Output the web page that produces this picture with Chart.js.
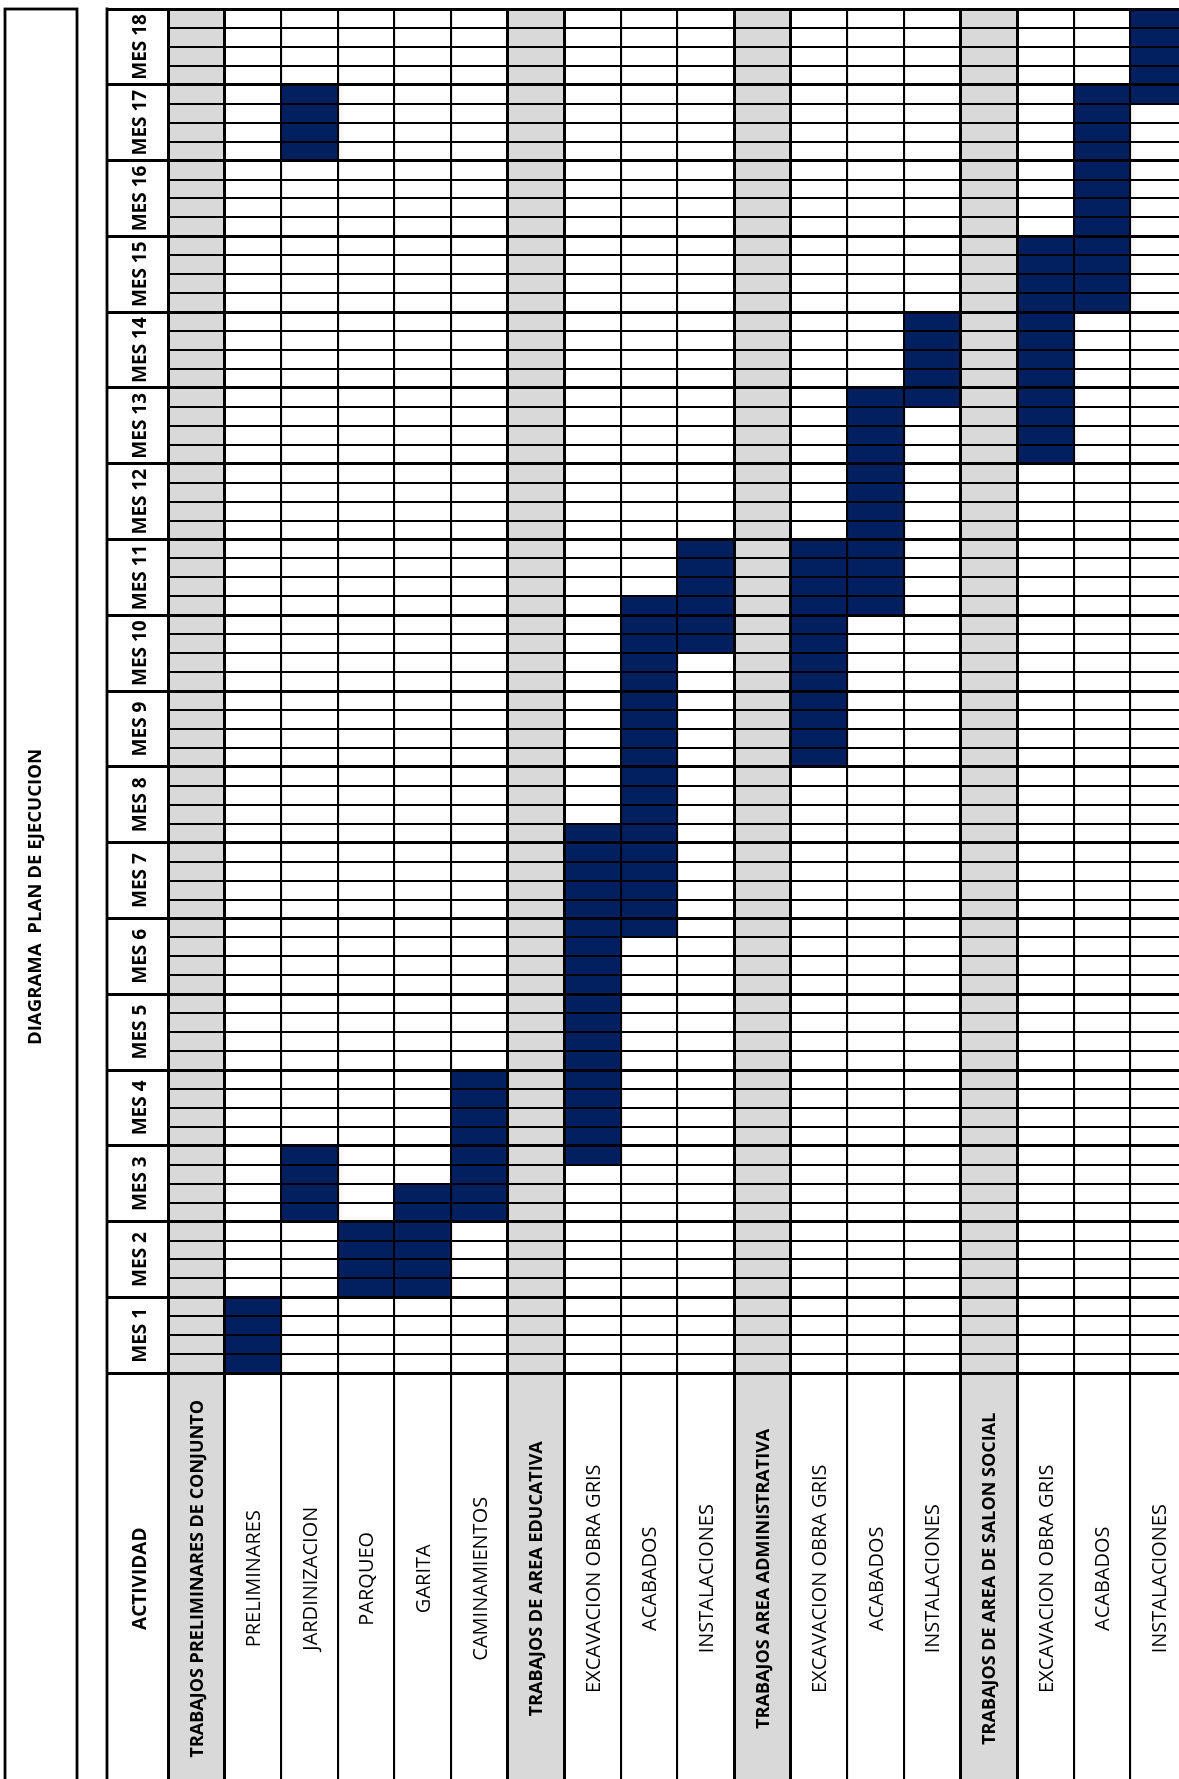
<!DOCTYPE html>
<html>
<head>
<meta charset="utf-8">
<title>Diagrama plan de ejecucion</title>
<script src="https://cdn.jsdelivr.net/npm/chart.js@4.4.1/dist/chart.umd.min.js"></script>
<style>
  html, body { margin: 0; padding: 0; background: #fff; overflow: hidden; }
  #wrap { position: absolute; left: 0; top: 0; width: 1200px; height: 1800px; }
</style>
</head>
<body>
<div id="wrap"><canvas id="plan" width="1200" height="1800"></canvas></div>
<script>
// ── Datos ──
const ACTIVITIES = [
    'TRABAJOS PRELIMINARES DE CONJUNTO', 'PRELIMINARES', 'JARDINIZACION', 'PARQUEO', 'GARITA', 'CAMINAMIENTOS',
    'TRABAJOS DE AREA EDUCATIVA', 'EXCAVACION OBRA GRIS', 'ACABADOS', 'INSTALACIONES',
    'TRABAJOS AREA ADMINISTRATIVA', 'EXCAVACION OBRA GRIS', 'ACABADOS', 'INSTALACIONES',
    'TRABAJOS DE AREA DE SALON SOCIAL', 'EXCAVACION OBRA GRIS', 'ACABADOS', 'INSTALACIONES',
];
const IS_SECTION = [1, 0, 0, 0, 0, 0, 1, 0, 0, 0, 1, 0, 0, 0, 1, 0, 0, 0];

// semanas (1..72), primera y última semana ocupada
const START_WEEK = [null, 1, 9, 5, 5, 9, null, 12, 24, 39, null, 33, 41, 52, null, 49, 57, 68];
const END_WEEK   = [null, 4, 12, 8, 10, 16, null, 29, 41, 44, null, 44, 52, 56, null, 60, 68, 72];
// segundo tramo (jardinización al final)
const EXTRA_START = [null, null, 65, null, null, null, null, null, null, null, null, null, null, null, null, null, null, null];
const EXTRA_END   = [null, null, 68, null, null, null, null, null, null, null, null, null, null, null, null, null, null, null];

const MONTHS = ['MES 1', 'MES 2', 'MES 3', 'MES 4', 'MES 5', 'MES 6', 'MES 7', 'MES 8', 'MES 9',
                'MES 10', 'MES 11', 'MES 12', 'MES 13', 'MES 14', 'MES 15', 'MES 16', 'MES 17', 'MES 18'];

const TITLE = 'DIAGRAMA  PLAN DE EJECUCION';
const HEAD_LABEL = 'ACTIVIDAD';

const WEEKS_PER_MONTH = 4;
const TOTAL_WEEKS = MONTHS.length * WEEKS_PER_MONTH;
const HEADER_WEEKS = 22;      // alto de la fila de encabezado, en semanas
const LABEL_CENTER = -10.85;  // centro de los textos del encabezado

const BLUE = '#022060';
const GRAY = '#d9d9d9';
const FONT = '"Open Sans", "Noto Sans", sans-serif';

const toRange = (s, e) => s.map((v, i) => v == null ? null : [v - 1, e[i]]);

// ── Texto vertical ──
function vText(ctx, text, cx, cy, size, bold) {
    ctx.save();
    ctx.font = `${bold ? 'bold ' : ''}${size}px ${FONT}`;
    ctx.translate(cx + size * 0.357, cy);
    ctx.rotate(-Math.PI / 2);
    ctx.textAlign = 'center';
    ctx.textBaseline = 'alphabetic';
    ctx.fillStyle = '#000';
    ctx.fillText(text, 0, 0);
    ctx.restore();
}

const tablePlugin = {
    id: 'tablePlugin',
    afterDraw(chart) {
        const { ctx, chartArea } = chart;
        const x = chart.scales.x;
        const y = chart.scales.y;
        const top = y.getPixelForValue(TOTAL_WEEKS);
        const tableLeft = 107;

        ctx.save();
        ctx.strokeStyle = '#000';
        // marco izquierdo con título
        ctx.lineWidth = 2.8;
        ctx.strokeRect(5, top, 72, 1900);
        // borde izquierdo de la tabla
        ctx.beginPath();
        ctx.moveTo(tableLeft, top - 1.4);
        ctx.lineTo(tableLeft, 1800);
        ctx.stroke();
        ctx.restore();

        vText(ctx, TITLE, 34.5, 897, 18.6, true);

        const colMid = (tableLeft + chartArea.left) / 2 + 2;
        MONTHS.forEach((m, i) => {
            vText(ctx, m, colMid, y.getPixelForValue((i + 0.5) * WEEKS_PER_MONTH), 19, true);
        });
        vText(ctx, HEAD_LABEL, colMid, y.getPixelForValue(LABEL_CENTER), 19, true);

        ACTIVITIES.forEach((a, i) => {
            const bold = IS_SECTION[i] === 1;
            vText(ctx, a, x.getPixelForValue(i), y.getPixelForValue(LABEL_CENTER), bold ? 18 : 20, bold);
        });
    }
};

new Chart(document.getElementById('plan'), {
    type: 'bar',
    data: {
        labels: ACTIVITIES.map((a, i) => `${i}`),
        datasets: [
            {
                label: 'secciones',
                data: IS_SECTION.map(s => s ? [-HEADER_WEEKS, TOTAL_WEEKS] : null),
                backgroundColor: GRAY,
                grouped: false,
                barPercentage: 1,
                categoryPercentage: 1,
                order: 3,
            },
            {
                label: 'ejecución',
                data: toRange(START_WEEK, END_WEEK),
                backgroundColor: BLUE,
                grouped: false,
                barPercentage: 1,
                categoryPercentage: 1,
                order: 1,
            },
            {
                label: 'ejecución 2',
                data: toRange(EXTRA_START, EXTRA_END),
                backgroundColor: BLUE,
                grouped: false,
                barPercentage: 1,
                categoryPercentage: 1,
                order: 2,
            },
        ]
    },
    options: {
        responsive: false,
        animation: false,
        events: [],
        layout: { padding: { left: 107, top: 9, right: 13, bottom: 10 } },
        plugins: { legend: { display: false }, tooltip: { enabled: false } },
        scales: {
            x: {
                type: 'category',
                offset: true,
                ticks: { display: false },
                border: { display: false },
                grid: {
                    z: 1,
                    offset: true,
                    drawTicks: false,
                    color: '#000',
                    lineWidth: c => {
                        const i = c.index;
                        return (IS_SECTION[i] || IS_SECTION[i - 1] || i === 0) ? 3 : 2.1;
                    },
                }
            },
            y: {
                type: 'linear',
                min: -HEADER_WEEKS,
                max: TOTAL_WEEKS,
                ticks: { display: false, stepSize: 1, maxTicksLimit: 200 },
                border: { display: true, width: 3, color: '#000', z: 1 },
                grid: {
                    z: 1,
                    drawTicks: true,
                    tickLength: 61,
                    color: c => c.tick && c.tick.value >= 0 ? '#000' : 'rgba(0,0,0,0)',
                    lineWidth: c => c.tick && c.tick.value % WEEKS_PER_MONTH === 0 ? 3 : 2,
                    tickColor: c => c.tick && c.tick.value >= 0 && c.tick.value % WEEKS_PER_MONTH === 0 ? '#000' : 'rgba(0,0,0,0)',
                    tickWidth: 3,
                }
            }
        }
    },
    plugins: [tablePlugin]
});
</script>
</body>
</html>
